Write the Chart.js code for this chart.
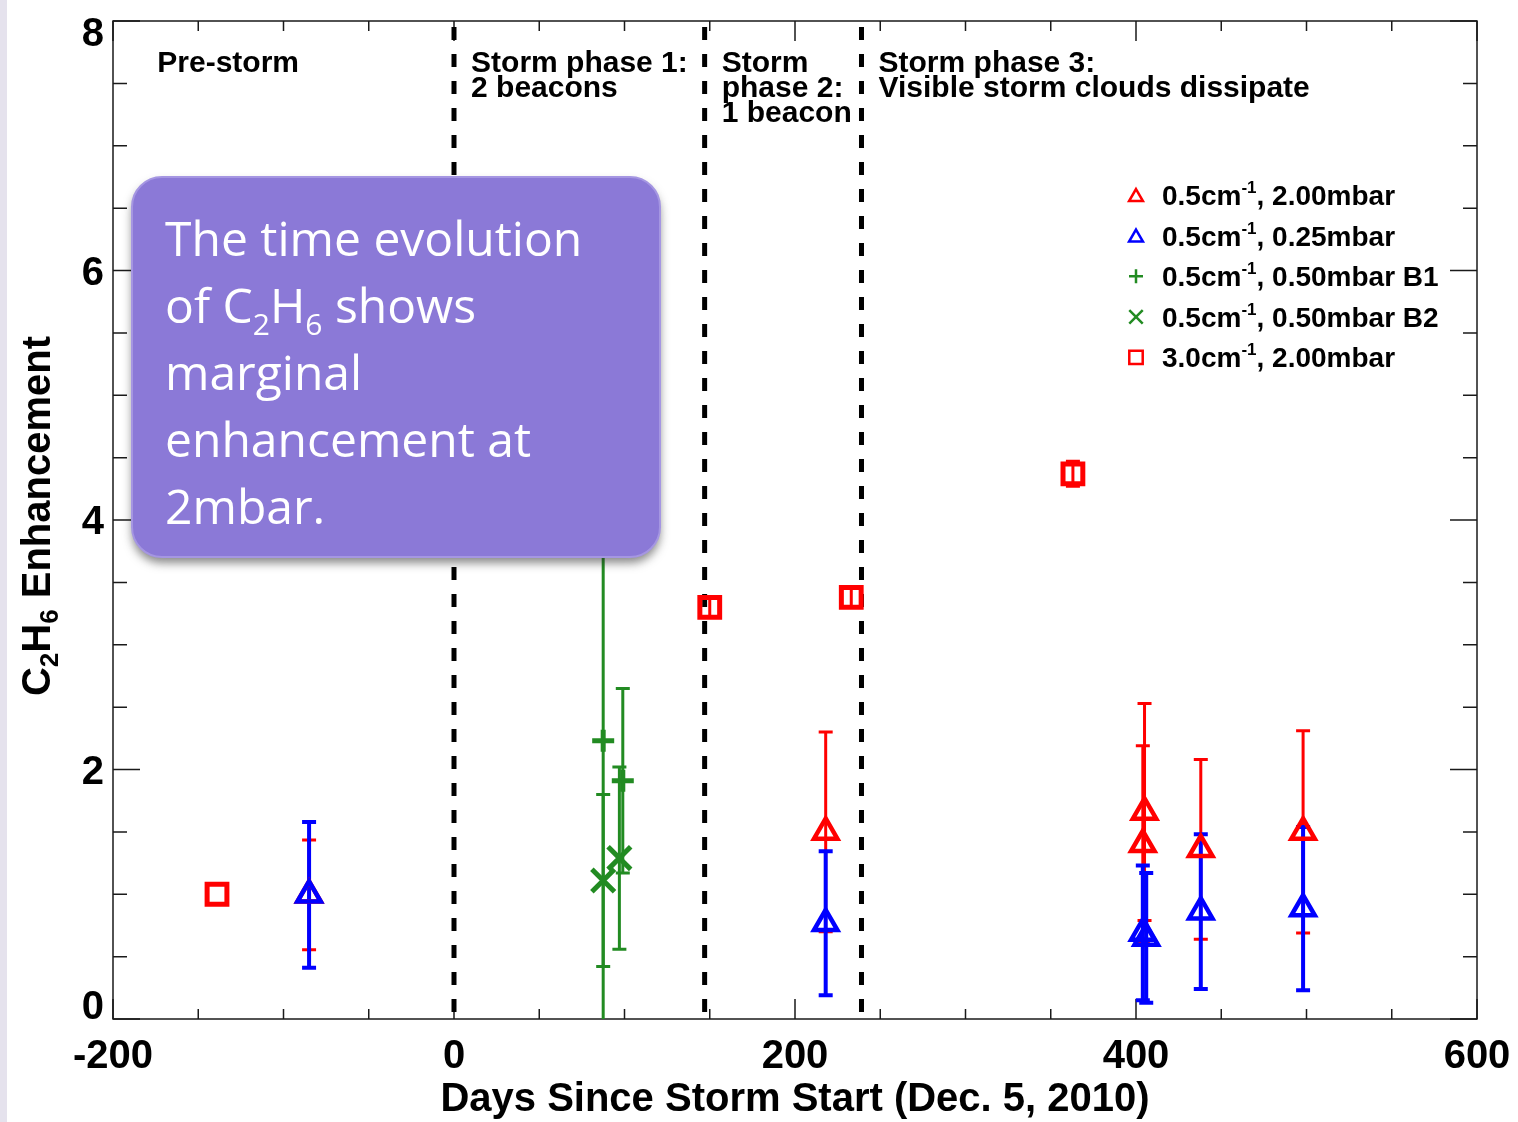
<!DOCTYPE html>
<html>
<head>
<meta charset="utf-8">
<script src="https://cdn.jsdelivr.net/npm/chart.js@4.4.1/dist/chart.umd.min.js"></script>
<style>
body { margin: 0; background: linear-gradient(to right, #e5e2ed 0, #e5e2ed 7px, #fff 7px); }
canvas { display: block; }
</style>
</head>
<body>
<canvas id="c" width="1518" height="1122"></canvas>
<script>
// 0.5cm-1, 2.00mbar (red triangles)
const tri200Days = [-85, 218, 405, 404, 438, 498];
const tri200Vals = [0.995, 1.50, 1.66, 1.40, 1.36, 1.50];
const tri200Errs = [0.44, 0.80, 0.87, 0.79, 0.72, 0.81];

// 0.5cm-1, 0.25mbar (blue triangles)
const tri025Days = [-85, 218, 404, 406, 438, 498];
const tri025Vals = [0.995, 0.767, 0.69, 0.65, 0.86, 0.885];
const tri025Errs = [0.585, 0.577, 0.54, 0.52, 0.62, 0.655];

// 0.5cm-1, 0.50mbar B1 (green plus)
const plusB1Days = [87.5, 99];
const plusB1Vals = [2.23, 1.91];
const plusB1Errs = [2.7, 0.74];

// 0.5cm-1, 0.50mbar B2 (green x)
const crossB2Days = [87.5, 97];
const crossB2Vals = [1.11, 1.29];
const crossB2Errs = [0.69, 0.73];

// 3.0cm-1, 2.00mbar (red squares)
const sq3Days = [-139, 150, 233, 363];
const sq3Vals = [1.00, 3.30, 3.38, 4.37];
const sq3Errs = [0, 0.08, 0.08, 0.1];

const phaseBounds = [0, 147, 239];
const phaseLabelDays = [-174, 10, 157, 249];
const phaseLabels = [
  ["Pre-storm"],
  ["Storm phase 1:", "2 beacons"],
  ["Storm", "phase 2:", "1 beacon"],
  ["Storm phase 3:", "Visible storm clouds dissipate"]
];

const xTickVals = [-200, 0, 200, 400, 600];
const yTickVals = [0, 2, 4, 6, 8];
const xTitle = "Days Since Storm Start (Dec. 5, 2010)";

const legendLabels = [
  ["0.5cm", "-1", ", 2.00mbar"],
  ["0.5cm", "-1", ", 0.25mbar"],
  ["0.5cm", "-1", ", 0.50mbar B1"],
  ["0.5cm", "-1", ", 0.50mbar B2"],
  ["3.0cm", "-1", ", 2.00mbar"]
];

const noteLines = [
  [["The time evolution", 0]],
  [["of C", 0], ["2", 1], ["H", 0], ["6", 1], [" shows", 0]],
  [["marginal", 0]],
  [["enhancement at", 0]],
  [["2mbar.", 0]]
];

const FONT = '"Liberation Sans", Arial, Helvetica, sans-serif';
const RED = "#ff0000", BLUE = "#0000ff", GREEN = "#228b22";

function pts(days, vals) {
  return days.map((d, i) => ({ x: d, y: vals[i] }));
}

const errorSeries = [
  { days: tri200Days, vals: tri200Vals, errs: tri200Errs, color: RED, width: 3 },
  { days: tri025Days, vals: tri025Vals, errs: tri025Errs, color: BLUE, width: 4 },
  { days: plusB1Days, vals: plusB1Vals, errs: plusB1Errs, color: GREEN, width: 3 },
  { days: crossB2Days, vals: crossB2Vals, errs: crossB2Errs, color: GREEN, width: 3 },
  { days: sq3Days, vals: sq3Vals, errs: sq3Errs, color: RED, width: 3 }
];

const legendSymbols = [
  { pointStyle: "triangle", radius: 8, color: RED },
  { pointStyle: "triangle", radius: 8, color: BLUE },
  { pointStyle: "cross", radius: 7, color: GREEN },
  { pointStyle: "crossRot", radius: 9.5, color: GREEN },
  { pointStyle: "rect", radius: 9.5, color: RED }
];

function drawRich(ctx, parts, x, y, big, small, subDy) {
  let cx = x;
  for (const [t, sub] of parts) {
    ctx.font = sub ? small : big;
    ctx.fillText(t, cx, y + (sub ? subDy : 0));
    cx += ctx.measureText(t).width;
  }
  return cx;
}

function richWidth(ctx, parts, big, small) {
  let w = 0;
  for (const [t, sub] of parts) {
    ctx.font = sub ? small : big;
    w += ctx.measureText(t).width;
  }
  return w;
}

function noEdgePadding(s) {
  s.paddingLeft = 0; s.paddingRight = 0; s.paddingTop = 0; s.paddingBottom = 0;
}

const idlPlugin = {
  id: "idlPlot",
  beforeDatasetsDraw(chart) {
    const { ctx, chartArea: a, scales: { x, y } } = chart;
    ctx.save();
    ctx.strokeStyle = "#1a1a1a";
    ctx.lineWidth = 1.5;
    ctx.strokeRect(a.left, a.top, a.right - a.left, a.bottom - a.top);

    // inward ticks on all four sides
    ctx.beginPath();
    for (let v = x.min; v <= x.max; v += 50) {
      const px = x.getPixelForValue(v);
      const len = xTickVals.includes(v) ? 20 : 10;
      ctx.moveTo(px, a.bottom); ctx.lineTo(px, a.bottom - len);
      ctx.moveTo(px, a.top); ctx.lineTo(px, a.top + len);
    }
    for (let v = y.min; v <= y.max; v += 0.5) {
      const py = y.getPixelForValue(v);
      const len = yTickVals.includes(v) ? 27 : 14;
      ctx.moveTo(a.left, py); ctx.lineTo(a.left + len, py);
      ctx.moveTo(a.right, py); ctx.lineTo(a.right - len, py);
    }
    ctx.stroke();

    // phase boundaries
    ctx.strokeStyle = "#000";
    ctx.lineWidth = 5;
    ctx.setLineDash([13, 14]);
    ctx.beginPath();
    for (const d of phaseBounds) {
      const px = x.getPixelForValue(d);
      ctx.moveTo(px, a.top + 6);
      ctx.lineTo(px, a.bottom);
    }
    ctx.stroke();
    ctx.setLineDash([]);

    // error bars
    ctx.beginPath();
    ctx.rect(a.left, a.top, a.right - a.left, a.bottom - a.top);
    ctx.clip();
    for (const s of errorSeries) {
      ctx.strokeStyle = s.color;
      ctx.lineWidth = s.width;
      s.days.forEach((d, i) => {
        const e = s.errs[i];
        if (!e) return;
        const px = x.getPixelForValue(d);
        const lo = y.getPixelForValue(s.vals[i] - e);
        const hi = y.getPixelForValue(s.vals[i] + e);
        ctx.beginPath();
        ctx.moveTo(px, lo); ctx.lineTo(px, hi);
        ctx.moveTo(px - 7, lo); ctx.lineTo(px + 7, lo);
        ctx.moveTo(px - 7, hi); ctx.lineTo(px + 7, hi);
        ctx.stroke();
      });
    }
    ctx.restore();
  },
  afterDatasetsDraw(chart) {
    const { ctx, chartArea: a, scales: { x, y } } = chart;
    ctx.save();
    ctx.fillStyle = "#000";
    ctx.textAlign = "left";
    ctx.textBaseline = "alphabetic";

    // phase labels
    ctx.font = "bold 30px " + FONT;
    phaseLabels.forEach((lines, i) => {
      const px = x.getPixelForValue(phaseLabelDays[i]);
      lines.forEach((t, j) => ctx.fillText(t, px, a.top + 51 + j * 25));
    });

    // y tick labels
    ctx.font = "bold 40px " + FONT;
    ctx.textAlign = "right";
    for (const v of yTickVals) {
      let py = y.getPixelForValue(v);
      py = Math.min(Math.max(py, a.top + 11), a.bottom - 14);
      ctx.fillText(String(v), 104, py + 14);
    }

    // y title with subscripts
    ctx.save();
    ctx.translate(50, 516);
    ctx.rotate(-Math.PI / 2);
    ctx.textAlign = "left";
    const yParts = [["C", 0], ["2", 1], ["H", 0], ["6", 1], [" Enhancement", 0]];
    const bigF = "bold 40px " + FONT, smallF = "bold 26px " + FONT;
    const w = richWidth(ctx, yParts, bigF, smallF);
    drawRich(ctx, yParts, -w / 2, 0, bigF, smallF, 8);
    ctx.restore();

    // legend
    ctx.textAlign = "left";
    legendLabels.forEach((parts, i) => {
      const cy = 195 + i * 40.6;
      const sym = legendSymbols[i];
      ctx.strokeStyle = sym.color;
      ctx.fillStyle = "rgba(0,0,0,0)";
      ctx.lineWidth = 2.5;
      Chart.helpers.drawPoint(ctx, { pointStyle: sym.pointStyle, radius: sym.radius, rotation: 0, borderWidth: 2.5 }, 1136, cy + (sym.pointStyle === "triangle" ? 2 : 0));
      ctx.fillStyle = "#000";
      ctx.font = "bold 28px " + FONT;
      ctx.fillText(parts[0], 1162, cy + 10);
      let cx = 1162 + ctx.measureText(parts[0]).width;
      ctx.font = "bold 17px " + FONT;
      ctx.fillText(parts[1], cx, cy - 2);
      cx += ctx.measureText(parts[1]).width;
      ctx.font = "bold 28px " + FONT;
      ctx.fillText(parts[2], cx, cy + 10);
    });

    // callout box
    ctx.save();
    ctx.shadowColor = "rgba(40,40,40,0.55)";
    ctx.shadowBlur = 10;
    ctx.shadowOffsetY = 6;
    ctx.fillStyle = "#8b79d7";
    ctx.beginPath();
    ctx.roundRect(132, 177, 528, 380, 30);
    ctx.fill();
    ctx.restore();
    ctx.strokeStyle = "#a596e2";
    ctx.lineWidth = 2;
    ctx.beginPath();
    ctx.roundRect(132, 177, 528, 380, 30);
    ctx.stroke();

    ctx.fillStyle = "#fff";
    const nBig = '48px "Open Sans", Lato, sans-serif';
    const nSmall = '30px "Open Sans", Lato, sans-serif';
    noteLines.forEach((parts, i) => {
      drawRich(ctx, parts, 165, 256 + i * 67, nBig, nSmall, 12);
    });
    ctx.restore();
  }
};

new Chart(document.getElementById("c"), {
  type: "scatter",
  data: {
    datasets: [
      { label: "0.5cm-1, 2.00mbar", data: pts(tri200Days, tri200Vals), order: 5,
        pointStyle: "triangle", pointRadius: 13.5, borderWidth: 4.5, borderColor: RED, backgroundColor: "rgba(0,0,0,0)" },
      { label: "0.5cm-1, 0.25mbar", data: pts(tri025Days, tri025Vals), order: 4,
        pointStyle: "triangle", pointRadius: 13.5, borderWidth: 4.5, borderColor: BLUE, backgroundColor: "rgba(0,0,0,0)" },
      { label: "0.5cm-1, 0.50mbar B1", data: pts(plusB1Days, plusB1Vals), order: 3,
        pointStyle: "cross", pointRadius: 11, borderWidth: 5, borderColor: GREEN, backgroundColor: "rgba(0,0,0,0)" },
      { label: "0.5cm-1, 0.50mbar B2", data: pts(crossB2Days, crossB2Vals), order: 2,
        pointStyle: "crossRot", pointRadius: 16, borderWidth: 5, borderColor: GREEN, backgroundColor: "rgba(0,0,0,0)" },
      { label: "3.0cm-1, 2.00mbar", data: pts(sq3Days, sq3Vals), order: 1,
        pointStyle: "rect", pointRadius: 14, borderWidth: 5, borderColor: RED, backgroundColor: "rgba(0,0,0,0)" }
    ]
  },
  options: {
    responsive: false,
    animation: false,
    layout: { padding: { top: 14, right: 41, left: 0, bottom: 0 } },
    plugins: { legend: { display: false }, tooltip: { enabled: false } },
    scales: {
      x: {
        type: "linear", min: -200, max: 600,
        afterBuildTicks: s => { s.ticks = xTickVals.map(v => ({ value: v })); },
        afterFit: s => { s.height = 103; noEdgePadding(s); },
        grid: { display: false, drawTicks: false },
        border: { display: false },
        ticks: { font: { family: FONT, size: 40, weight: "bold" }, color: "#000", padding: 14, maxRotation: 0, autoSkip: false },
        title: { display: true, text: xTitle, color: "#000", padding: 0,
                 font: { family: FONT, size: 40, weight: "bold", lineHeight: 1.1 } }
      },
      y: {
        type: "linear", min: 0, max: 8,
        afterBuildTicks: s => { s.ticks = yTickVals.map(v => ({ value: v })); },
        afterFit: s => { s.width = 113; noEdgePadding(s); },
        grid: { display: false, drawTicks: false },
        border: { display: false },
        ticks: { display: false }
      }
    }
  },
  plugins: [idlPlugin]
});
</script>
</body>
</html>
